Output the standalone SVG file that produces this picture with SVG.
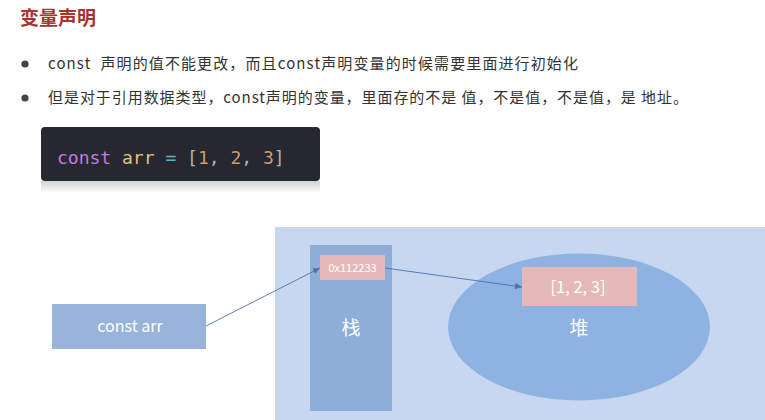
<svg xmlns="http://www.w3.org/2000/svg" width="765" height="420" viewBox="0 0 765 420">
<style>
.cjk{font-family:"Noto Sans CJK SC","Noto Sans",sans-serif}
.body{font-size:15px;fill:#333}
.code{font-family:"DejaVu Sans Mono","Liberation Mono",monospace;font-size:18px}
.wt{fill:#fff;text-anchor:middle}
.conn{stroke:#4a72b0;stroke-width:0.9;fill:none;marker-end:url(#ah)}
</style>
<defs>
<marker id="ah" markerWidth="8" markerHeight="8" refX="7" refY="4" orient="auto" markerUnits="userSpaceOnUse">
<path d="M0,1 L7,4 L0,7 Z" fill="#4a72b0"/>
</marker>
<linearGradient id="sh" x1="0" y1="0" x2="0" y2="1">
<stop offset="0" stop-color="#000" stop-opacity="0.18"/>
<stop offset="1" stop-color="#000" stop-opacity="0"/>
</linearGradient>
</defs>
<rect width="765" height="420" fill="#fff"/>
<text x="20" y="25" class="cjk" font-size="19" font-weight="bold" fill="#a8322d">变量声明</text>
<circle cx="25" cy="64" r="3.6" fill="#444"/>
<circle cx="25" cy="98" r="3.6" fill="#444"/>
<text x="48" y="69" class="cjk body" textLength="530" lengthAdjust="spacing">const&#160; 声明的值不能更改，而且const声明变量的时候需要里面进行初始化</text>
<text x="48" y="103" class="cjk body" textLength="640" lengthAdjust="spacing">但是对于引用数据类型，const声明的变量，里面存的不是 值，不是值，不是值，是 地址。</text>
<g id="code">
<rect x="41" y="181" width="279" height="12" fill="url(#sh)"/>
<rect x="41" y="127" width="279" height="54" rx="4" fill="#262830"/>
<text x="57" y="164" class="code"><tspan fill="#c678dd">const</tspan><tspan fill="#abb2bf"> </tspan><tspan fill="#e5c07b">arr</tspan><tspan fill="#abb2bf"> </tspan><tspan fill="#56b6c2">=</tspan><tspan fill="#abb2bf"> [</tspan><tspan fill="#d19a66">1</tspan><tspan fill="#abb2bf">, </tspan><tspan fill="#d19a66">2</tspan><tspan fill="#abb2bf">, </tspan><tspan fill="#d19a66">3</tspan><tspan fill="#abb2bf">]</tspan></text>
</g>
<g id="memory">
<rect x="275" y="227" width="490" height="193" fill="#c6d7ef"/>
</g>
<g id="stack">
<rect x="310" y="245" width="82" height="166" fill="#8eadd9"/>
<text x="351" y="335" class="cjk wt" font-size="19">栈</text>
</g>
<g id="heap">
<ellipse cx="579" cy="327" rx="131" ry="73.5" fill="#8eb2e2"/>
<text x="579" y="335" class="cjk wt" font-size="19">堆</text>
</g>
<g id="addr">
<rect x="320" y="255" width="65" height="25" fill="#e6b9b9"/>
<text x="352.5" y="272" class="cjk wt" font-size="11">0x112233</text>
</g>
<g id="arrval">
<rect x="522" y="267" width="115" height="39" fill="#e6b9b9"/>
<text x="578" y="292.5" class="cjk wt" font-size="16.5">[1, 2, 3]</text>
</g>
<g id="constarr">
<rect x="52" y="304" width="154" height="45" fill="#98b4db"/>
<text x="130" y="332" class="cjk wt" font-size="16">const arr</text>
</g>
<g id="connectors">
<line x1="206" y1="326" x2="320" y2="268" class="conn"/>
<line x1="385" y1="268" x2="522" y2="287" class="conn"/>
</g>
</svg>
